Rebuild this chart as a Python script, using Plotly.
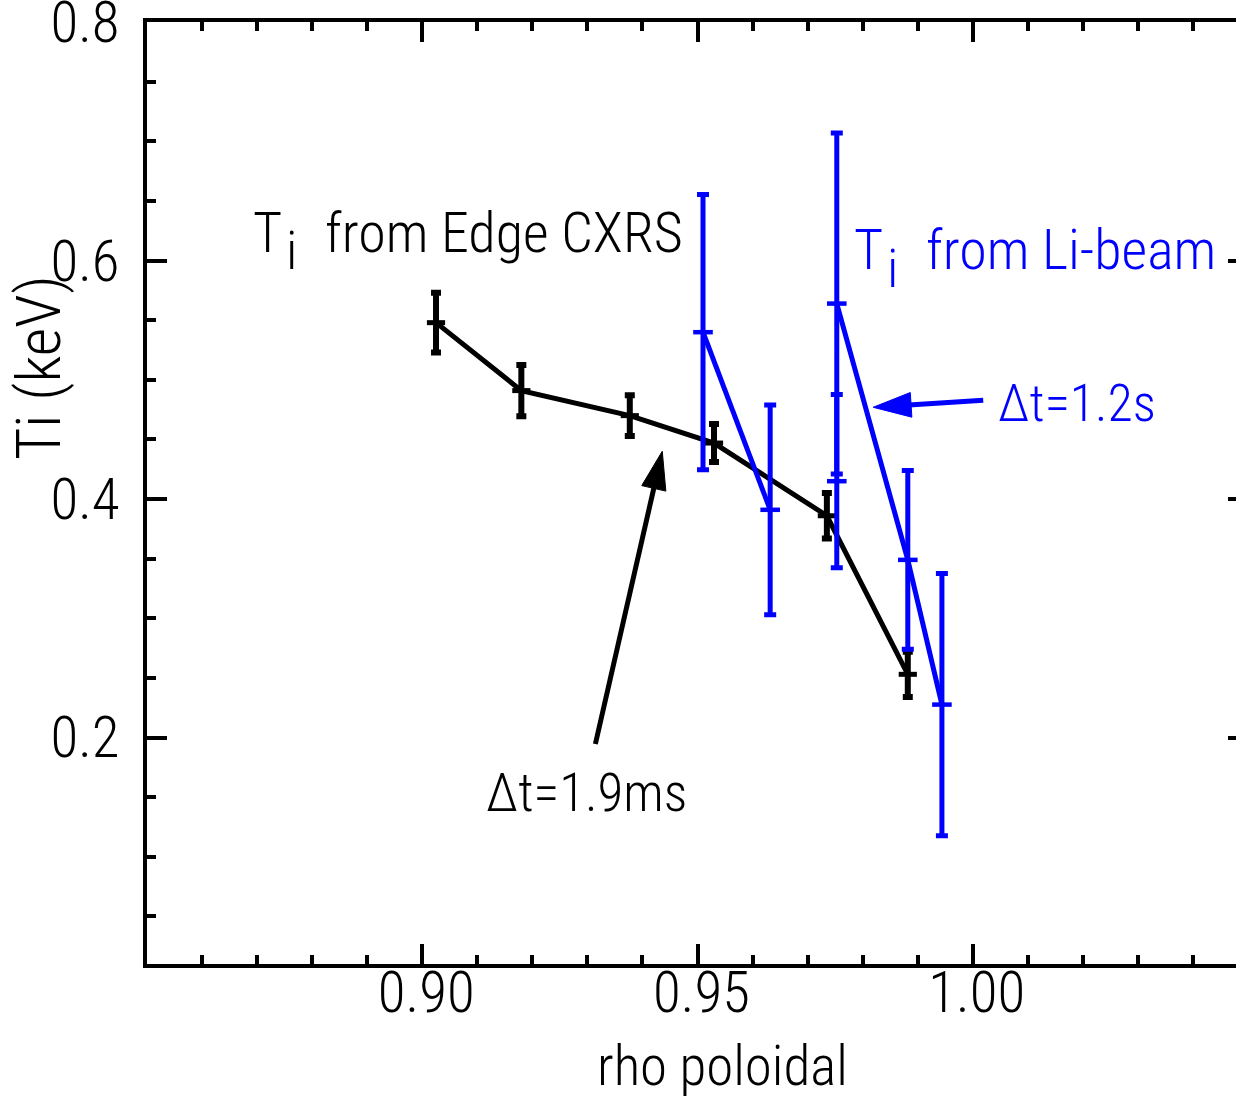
import plotly.graph_objects as go

# Ion temperature profiles at the plasma edge
# Edge CXRS
cxrs_rho = [0.9025, 0.918, 0.9377, 0.953, 0.9735, 0.9882]
cxrs_ti = [0.548, 0.491, 0.470, 0.447, 0.386, 0.253]
cxrs_err = [0.025, 0.0215, 0.017, 0.016, 0.019, 0.019]

# Li-beam (None breaks the connecting line between groups)
li_rho = [0.951, 0.9632, None, 0.9753, None, 0.9753, 0.9882, 0.9944]
li_ti = [0.540, 0.391, None, 0.415, None, 0.564, 0.349, 0.2276]
li_err = [0.1155, 0.088, 0, 0.0727, 0, 0.143, 0.075, 0.110]

# Callout arrows (tail -> tip, data coordinates)
arrow_cxrs_x = [0.93145, 0.9436]
arrow_cxrs_y = [0.1946, 0.4401]
arrow_li_x = [1.0019, 0.9819]
arrow_li_y = [0.4829, 0.4770]

x_ticks = [0.90, 0.95, 1.00]
x_ticktext = ["0.90", "0.95", "1.00"]
y_ticks = [0.2, 0.4, 0.6, 0.8]
y_ticktext = ["0.2", "0.4", "0.6", "0.8"]

X_RANGE = [0.85, 1.05]
Y_RANGE = [0.01, 0.8002]

FONT = "Roboto Condensed Light, Roboto Condensed, sans-serif"
BLUE = "#0000FF"

W, H = 1260, 1097
ML, MR, MT, MB = 147, 12, 22, 133
PW, PH = W - ML - MR, H - MT - MB


def px(x):
    return (x - ML) / PW


def py(y):
    return (H - MB - y) / PH


fig = go.Figure()

fig.add_trace(go.Scatter(
    x=cxrs_rho, y=cxrs_ti, mode="lines+markers",
    line=dict(color="black", width=5),
    marker=dict(symbol="line-ew", size=13, color="black",
                line=dict(color="black", width=5)),
    error_y=dict(type="data", array=cxrs_err, color="black",
                 thickness=6, width=5),
    showlegend=False, cliponaxis=False,
))

fig.add_trace(go.Scatter(
    x=li_rho, y=li_ti, mode="lines+markers", connectgaps=False,
    line=dict(color=BLUE, width=5),
    marker=dict(symbol="line-ew", size=14, color=BLUE,
                line=dict(color=BLUE, width=4.5)),
    error_y=dict(type="data", array=li_err, color=BLUE,
                 thickness=5, width=6),
    showlegend=False, cliponaxis=False,
))

for ax_, ay_, col in [(arrow_cxrs_x, arrow_cxrs_y, "black"),
                      (arrow_li_x, arrow_li_y, BLUE)]:
    fig.add_trace(go.Scatter(
        x=ax_, y=ay_, mode="lines+markers", opacity=1,
        line=dict(color=col, width=5),
        marker=dict(symbol=["circle", "arrow"], size=[0, 40], color=col,
                    opacity=1, angleref="previous",
                    line=dict(width=1, color=col)),
        showlegend=False, hoverinfo="skip",
    ))

axis_common = dict(
    showline=True, linewidth=4, linecolor="black", mirror="allticks",
    ticks="inside", ticklen=20, tickwidth=4, tickcolor="black",
    showgrid=False, zeroline=False, ticklabeloverflow="allow",
    tickfont=dict(family=FONT, size=57, color="black"),
)

fig.update_xaxes(
    range=X_RANGE, tickmode="array", tickvals=x_ticks, ticktext=x_ticktext,
    ticklabelstandoff=-24, ticklabelshift=4,
    minor=dict(ticks="inside", tick0=0.85, dtick=0.01, ticklen=9,
               tickwidth=4, tickcolor="black", showgrid=False),
    **axis_common,
)
fig.update_yaxes(
    range=Y_RANGE, tickmode="array", tickvals=y_ticks, ticktext=y_ticktext,
    ticklabelstandoff=12,
    minor=dict(ticks="inside", tick0=0, dtick=0.05, ticklen=9,
               tickwidth=4, tickcolor="black", showgrid=False),
    **axis_common,
)

annotations = [
    # "T_i  from Edge CXRS" with a full-height lowered subscript
    dict(text="T", x=px(284), y=py(233), xanchor="right", yanchor="middle",
         font=dict(size=56, color="black")),
    dict(text="i", x=px(284), y=py(251), xanchor="left", yanchor="middle",
         font=dict(size=54, color="black")),
    dict(text="from Edge CXRS", x=px(323), y=py(233), xanchor="left",
         yanchor="middle", font=dict(size=56, color="black")),
    # "T_i  from Li-beam"
    dict(text="T", x=px(885), y=py(250), xanchor="right", yanchor="middle",
         font=dict(size=56, color=BLUE)),
    dict(text="i", x=px(885), y=py(268), xanchor="left", yanchor="middle",
         font=dict(size=54, color=BLUE)),
    dict(text="from Li-beam", x=px(924), y=py(250), xanchor="left",
         yanchor="middle", font=dict(size=56, color=BLUE)),
    dict(text="\u0394t=1.2s", x=px(996), y=py(403),
         xanchor="left", yanchor="middle", font=dict(size=52, color=BLUE)),
    dict(text="\u0394t=1.9ms", x=px(484), y=py(793),
         xanchor="left", yanchor="middle", font=dict(size=53, color="black")),
    dict(text="Ti (keV)", x=px(38), y=py(368), textangle=-90,
         xanchor="center", yanchor="middle", font=dict(size=62, color="black")),
    dict(text="rho poloidal", x=px(722), y=py(1066),
         xanchor="center", yanchor="middle", font=dict(size=55, color="black")),
]
for a in annotations:
    a.update(xref="paper", yref="paper", showarrow=False)
    a["font"]["family"] = FONT
fig.update_layout(annotations=annotations)

fig.update_layout(
    width=W, height=H,
    margin=dict(l=ML, r=MR, t=MT, b=MB, autoexpand=False),
    paper_bgcolor="white", plot_bgcolor="white",
    font=dict(family=FONT, color="black"),
)

fig.write_html(
    "out.html",
    post_script="document.documentElement.style.overflow='hidden';"
                "document.body.style.overflow='hidden';",
)
